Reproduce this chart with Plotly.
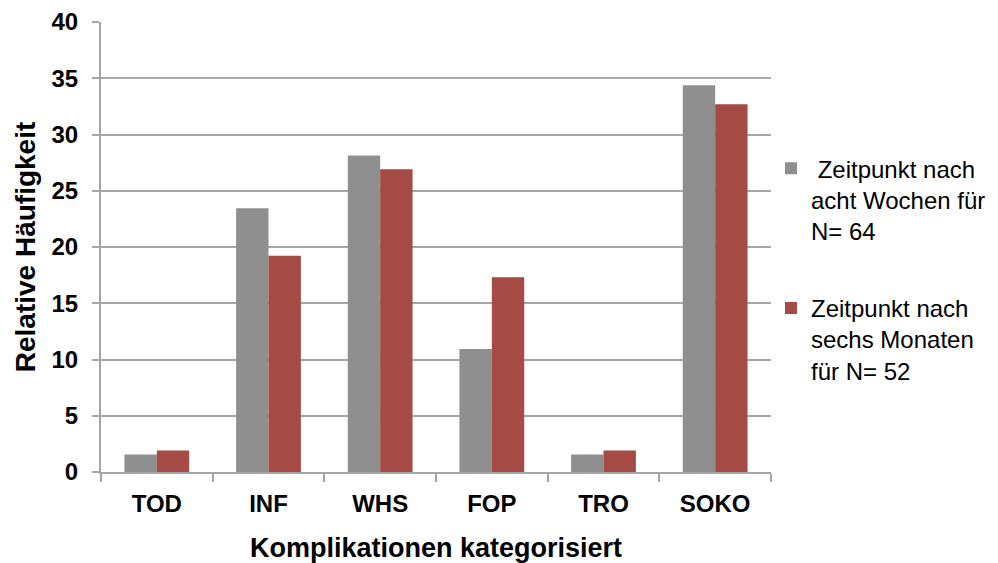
import plotly.graph_objects as go

# Complication categories and relative frequencies (%) at the two follow-up points
categories = ["TOD", "INF", "WHS", "FOP", "TRO", "SOKO"]
weeks8_values = [1.56, 23.44, 28.13, 10.94, 1.56, 34.38]
months6_values = [1.92, 19.23, 26.92, 17.31, 1.92, 32.69]
series_names = [
    " Zeitpunkt nach<br>acht Wochen für<br>N= 64",
    "Zeitpunkt nach<br>sechs Monaten<br>für N= 52",
]
y_ticks = [0, 5, 10, 15, 20, 25, 30, 35, 40]

GRAY = "#8f8f8f"
RED = "#a54a44"
GRID = "#a6a6a6"
FONT = "Liberation Sans, Arial, sans-serif"

fig = go.Figure()
fig.add_trace(go.Bar(x=categories, y=weeks8_values, name=series_names[0],
                     marker=dict(color=GRAY, line=dict(width=0)), legendgroup="a"))
fig.add_trace(go.Bar(x=categories, y=months6_values, name=series_names[1],
                     marker=dict(color=RED, line=dict(width=0)), legendgroup="b"))

fig.update_layout(
    width=998, height=563,
    margin=dict(l=101, r=227, t=22, b=91, autoexpand=False),
    paper_bgcolor="white", plot_bgcolor="white",
    barmode="group", bargap=0.42, bargroupgap=0,
    font=dict(family=FONT, color="black"),
    legend=dict(
        x=1.0, xanchor="left", y=0.724, yanchor="top",
        font=dict(size=24, family=FONT, color="black"),
        traceorder="grouped", tracegroupgap=43, valign="top",
        itemwidth=30, bgcolor="rgba(0,0,0,0)",
    ),
    showlegend=True,
)

fig.update_xaxes(
    type="category",
    showline=True, linecolor=GRID, linewidth=2,
    ticks="outside", tickson="boundaries", ticklen=8, tickcolor=GRID, tickwidth=2,
    tickfont=dict(size=24, family=FONT, color="black", weight="bold"),
    ticklabelstandoff=9,
    showgrid=False,
    title=dict(text="<b>Komplikationen kategorisiert</b>",
               font=dict(size=27, family=FONT, color="black"), standoff=24),
)

fig.update_yaxes(
    range=[0, 40], tickvals=y_ticks,
    showline=True, linecolor=GRID, linewidth=2,
    ticks="outside", ticklen=7, tickcolor=GRID, tickwidth=2,
    showgrid=True, gridcolor=GRID, gridwidth=2,
    zeroline=False,
    tickfont=dict(size=24, family=FONT, color="black", weight="bold"),
    ticklabelstandoff=9,
    title=dict(text="<b>Relative Häufigkeit</b>",
               font=dict(size=28, family=FONT, color="black"), standoff=8),
)

fig.write_html("out.html")
